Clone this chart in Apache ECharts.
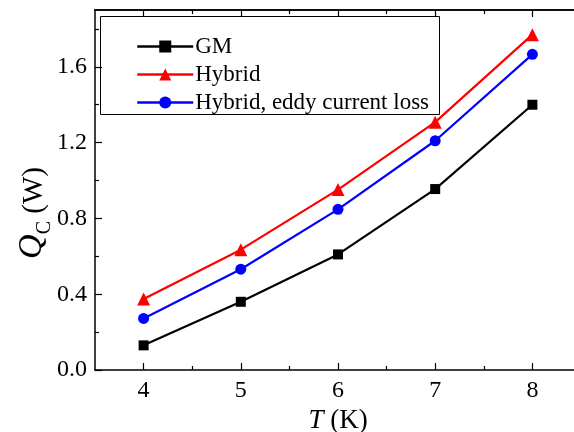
<!DOCTYPE html>
<html>
<head>
<meta charset="utf-8">
<script src="https://cdn.jsdelivr.net/npm/echarts@6/dist/echarts.min.js"></script>
<style>
html,body{margin:0;padding:0;background:#fff;}
#c{width:574px;height:432px;}
</style>
</head>
<body>
<div id="c"></div>
<script>
const temps = [4, 5, 6, 7, 8];
const gm = [0.13, 0.36, 0.61, 0.955, 1.40];
const hybrid = [0.375, 0.635, 0.952, 1.308, 1.77];
const hybridEddy = [0.272, 0.532, 0.848, 1.21, 1.666];
const seriesNames = ['GM', 'Hybrid', 'Hybrid, eddy current loss'];
const xMajorTicks = [4, 5, 6, 7, 8];
const xMinorTicks = [4.5, 5.5, 6.5, 7.5];
const yMajorTicks = [0, 0.4, 0.8, 1.2, 1.6];
const yMinorTicks = [0.2, 0.6, 1.0, 1.4, 1.8];

const FONT = 'Liberation Serif';
const chart = echarts.init(document.getElementById('c'), null, {renderer: 'canvas'});

function pairs(vals) { return temps.map((t, i) => [t, vals[i]]); }

const axisLine = {show: true, onZero: false, lineStyle: {color: '#000', width: 1.5}};
const noLine = {show: false};
function xAx(pos, ticks, len, labels, name) {
  return {
    type: 'value', position: pos, min: 3.5, max: 8.5, interval: 0.5,
    axisLine: labels || pos === 'top' ? axisLine : noLine,
    splitLine: {show: false},
    axisTick: {show: true, inside: true, length: len, customValues: ticks, lineStyle: {color: '#000', width: 1.2}},
    axisLabel: labels ? {show: true, customValues: xMajorTicks, fontFamily: FONT, fontSize: 24, color: '#000', margin: 9,
      formatter: v => String(v)} : {show: false},
    name: name || '',
    nameLocation: 'middle', nameGap: 34,
    nameTextStyle: name ? {fontFamily: FONT, fontSize: 27, color: '#000',
      rich: {i: {fontFamily: FONT, fontSize: 27, fontStyle: 'italic', color: '#000'}}} : undefined
  };
}
function yAx(ticks, len, labels, pos) {
  return {
    type: 'value', position: pos || 'left', min: 0, max: 1.9, interval: 0.2,
    axisLine: labels ? axisLine : noLine,
    splitLine: {show: false},
    axisTick: {show: true, inside: true, length: len, customValues: ticks, lineStyle: {color: '#000', width: 1.2}},
    axisLabel: labels ? {show: true, customValues: yMajorTicks, fontFamily: FONT, fontSize: 24, color: '#000', margin: 8,
      formatter: v => v.toFixed(1)} : {show: false}
  };
}

const option = {
  backgroundColor: '#fff',
  animation: false,
  grid: {left: 95, right: -7, top: 10, bottom: 62, containLabel: false, outerBoundsMode: 'none'},
  xAxis: [
    xAx('bottom', xMajorTicks, 7, true, '{i|T} (K)'),
    xAx('bottom', xMinorTicks, 4, false),
    xAx('top', xMajorTicks, 7, false),
    xAx('top', xMinorTicks, 4, false)
  ],
  yAxis: [
    yAx(yMajorTicks, 7, true),
    yAx(yMinorTicks, 4, false)
  ],
  legend: {
    orient: 'vertical', left: 131, top: 30,
    itemWidth: 56, itemHeight: 15, itemGap: 5,
    data: seriesNames,
    lineStyle: {width: 2.5},
    textStyle: {fontFamily: FONT, fontSize: 23, color: '#000', lineHeight: 23, padding: [0, 0, 0, -3]}
  },
  graphic: [
    {type: 'rect', left: 98, top: 14, shape: {width: 339, height: 98}, style: {fill: 'none', stroke: '#000', lineWidth: 1}, z: 10},
    {type: 'text', x: 32, y: 213, rotation: Math.PI / 2, z: 10,
      style: {text: '{q|Q}{c|C}{w| (W)}', align: 'center', verticalAlign: 'middle',
        rich: {
          q: {fontFamily: FONT, fontSize: 34, fontStyle: 'italic', fill: '#000', verticalAlign: 'bottom'},
          c: {fontFamily: FONT, fontSize: 20, fill: '#000', verticalAlign: 'bottom', padding: [0, 0, -6, 0]},
          w: {fontFamily: FONT, fontSize: 29, fill: '#000', verticalAlign: 'bottom'}
        }}}
  ],
  series: [
    {name: seriesNames[0], type: 'line', data: pairs(gm), symbol: 'rect', symbolSize: 10,
      itemStyle: {color: '#000'}, lineStyle: {color: '#000', width: 2.2}},
    {name: seriesNames[1], type: 'line', data: pairs(hybrid), symbol: 'triangle', symbolSize: 13,
      itemStyle: {color: '#ff0000'}, lineStyle: {color: '#ff0000', width: 2.2}},
    {name: seriesNames[2], type: 'line', data: pairs(hybridEddy), symbol: 'circle', symbolSize: 11,
      itemStyle: {color: '#0000ff'}, lineStyle: {color: '#0000ff', width: 2.2}}
  ]
};
chart.setOption(option);
</script>
</body>
</html>
